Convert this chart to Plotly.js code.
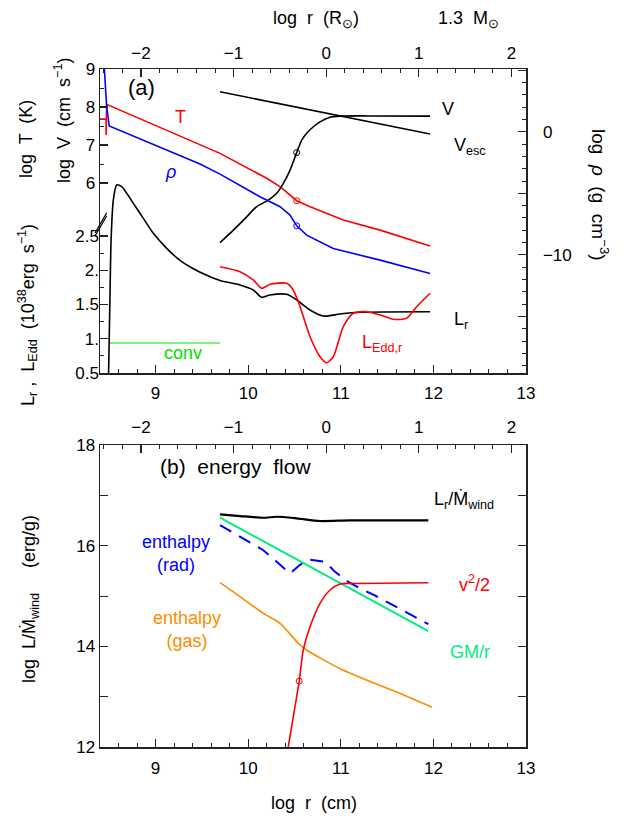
<!DOCTYPE html>
<html>
<head>
<meta charset="utf-8">
<script src="https://cdn.plot.ly/plotly-3.0.1.min.js"></script>
<style>html,body{margin:0;padding:0;background:#fff;}#chart{width:628px;height:822px;}</style>
</head>
<body>
<div id="chart"></div>
<script>
// ---------- data ----------
const LOG_RSUN = 10.842;            // log R_sun (cm), offset of the top axes

// panel (a): temperature
const logrT = [8.40, 8.466, 8.466, 8.472, 9.696, 10.20, 10.344, 10.524, 10.668, 11.028, 11.424, 11.964];
const logT  = [7.68, 7.68, 7.26, 8.07, 6.78, 6.124, 5.903, 5.534, 5.376, 5.026, 4.76, 4.34];

// panel (a): density (right axis)
const logrRho = [8.440, 8.446, 8.472, 8.50, 9.48, 9.696, 9.84, 10.128, 10.344, 10.452, 10.524, 10.632, 10.919, 11.424, 11.964];
const logRho  = [6.0, 5.02, 2.03, 0.47, -2.62, -3.44, -4.06, -5.28, -6.09, -6.77, -7.64, -8.40, -9.48, -10.43, -11.51];

// panel (a): wind velocity
const logrV = [9.696, 9.84, 9.984, 10.092, 10.218, 10.308, 10.38, 10.452, 10.524, 10.578, 10.632, 10.704, 10.776, 10.884, 10.992, 11.3, 11.964];
const logV  = [4.43, 4.76, 5.11, 5.38, 5.55, 5.73, 5.99, 6.34, 6.80, 7.13, 7.31, 7.48, 7.61, 7.73, 7.76, 7.765, 7.76];

// panel (a): escape velocity
const logrVesc = [9.696, 10.83, 11.964];
const logVesc  = [8.40, 7.845, 7.29];

// panel (a): L_r (1e38 erg/s)
const logrLr = [8.49, 8.505, 8.52, 8.544, 8.58, 8.634, 8.688, 8.76, 8.868, 8.976, 9.12, 9.264, 9.408, 9.553, 9.696, 9.912, 10.055, 10.146, 10.236, 10.416, 10.524, 10.668, 10.811, 10.99, 11.208, 11.964];
const Lr     = [0.30, 1.40, 2.45, 3.026, 3.245, 3.22, 3.123, 2.977, 2.758, 2.539, 2.32, 2.144, 2.023, 1.926, 1.85, 1.785, 1.712, 1.605, 1.639, 1.649, 1.566, 1.42, 1.332, 1.361, 1.386, 1.395];

// panel (a): L_Edd,r
const logrLedd = [9.696, 9.912, 10.055, 10.146, 10.236, 10.416, 10.486, 10.56, 10.668, 10.776, 10.848, 10.919, 11.027, 11.135, 11.28, 11.424, 11.567, 11.711, 11.819, 11.964];
const Ledd     = [2.052, 1.979, 1.858, 1.736, 1.795, 1.809, 1.712, 1.468, 1.03, 0.738, 0.65, 0.738, 1.176, 1.372, 1.395, 1.347, 1.284, 1.299, 1.468, 1.664];

// panel (a): convective region
const logrConv = [8.508, 9.696];
const convLevel = [0.938, 0.938];

// sonic-point markers
const sonicLogr = [10.524];
const sonicV = [6.80], sonicT = [5.534], sonicRho = [-7.64];

// panel (b): energy flow (erg/g)
const logrE = [9.696, 9.912, 10.164, 10.308, 10.524, 10.776, 11.1, 11.945];
const LrMdot = [16.623, 16.589, 16.555, 16.575, 16.543, 16.49, 16.504, 16.504];

const logrGM = [9.696, 11.945];
const GMr    = [16.556, 14.30];

const logrHrad = [9.696, 9.912, 10.164, 10.308, 10.452, 10.56, 10.668, 10.83, 10.938, 11.081, 11.208, 11.37, 11.513, 11.658, 11.802, 11.945];
const Hrad     = [16.41, 16.18, 15.91, 15.68, 15.45, 15.62, 15.72, 15.68, 15.48, 15.28, 15.15, 15.01, 14.87, 14.72, 14.58, 14.44];

const logrHgas = [9.696, 9.912, 10.164, 10.344, 10.542, 10.63, 11.023, 11.679, 11.985];
const Hgas     = [15.264, 14.986, 14.656, 14.457, 14.06, 13.927, 13.53, 13.033, 12.79];

const logrKin = [10.42, 10.433, 10.551, 10.595, 10.668, 10.776, 10.884, 10.992, 11.172, 11.945];
const kin     = [11.8, 12.0, 13.31, 13.93, 14.39, 14.855, 15.12, 15.24, 15.25, 15.264];
const sonicKinLogr = [10.551], sonicKin = [13.31];

// axis ticks
const xTicks = [9, 10, 11, 12, 13];
const xSunTicks = [-2, -1, 0, 1, 2];
const xSunText = ['−2', '−1', '0', '1', '2'];
const tTicks = [6, 7, 8, 9];
const lTicks = [0.5, 1, 1.5, 2, 2.5];
const lTickText = ['0.5', '1.', '1.5', '2.', '2.5'];
const rhoTicks = [-15, -10, -5, 0, 5];
const rhoTickText = ['', '−10', '', '0', ''];
const eTicks = [12, 14, 16, 18];

// ---------- styling ----------
const RED = '#ff0000', BLUE = '#0000ff', BLACK = '#000000';
const CONV = '#00dd00', GMC = '#00ee80', ORANGE = '#ff8c00';
const FONT = 'Liberation Sans, Arial, sans-serif';
const AX = '#222222';

function line(x, y, color, xa, ya, extra) {
  return Object.assign({x: x, y: y, xaxis: xa, yaxis: ya, mode: 'lines',
    line: {color: color, width: 1.6}, hoverinfo: 'skip'}, extra || {});
}
function smooth(x, y, color, xa, ya, w) {
  return line(x, y, color, xa, ya, {line: {color: color, width: w || 1.6, shape: 'spline', smoothing: 0.7}});
}
function ring(x, y, color, xa, ya) {
  return {x: x, y: y, xaxis: xa, yaxis: ya, mode: 'markers',
    marker: {symbol: 'circle-open', size: 6, color: color, line: {width: 1, color: color}}, hoverinfo: 'skip'};
}

const traces = [
  line(logrT, logT, RED, 'x', 'y'),
  smooth(logrV, logV, BLACK, 'x', 'y'),
  line(logrVesc, logVesc, BLACK, 'x', 'y'),
  line(logrRho, logRho, BLUE, 'x', 'y3'),
  smooth(logrLr, Lr, BLACK, 'x', 'y2'),
  smooth(logrLedd, Ledd, RED, 'x', 'y2'),
  line(logrConv, convLevel, CONV, 'x', 'y2', {line: {color: CONV, width: 1.2}}),
  ring(sonicLogr, sonicV, BLACK, 'x', 'y'),
  ring(sonicLogr, sonicT, RED, 'x', 'y'),
  ring(sonicLogr, sonicRho, BLUE, 'x', 'y3'),
  smooth(logrE, LrMdot, BLACK, 'x3', 'y4', 2.2),
  line(logrGM, GMr, GMC, 'x3', 'y4', {line: {color: GMC, width: 2}}),
  line(logrHrad, Hrad, BLUE, 'x3', 'y4', {line: {color: BLUE, width: 2, dash: '13px,9px'}}),
  smooth(logrHgas, Hgas, ORANGE, 'x3', 'y4'),
  smooth(logrKin, kin, RED, 'x3', 'y4'),
  ring(sonicKinLogr, sonicKin, RED, 'x3', 'y4'),
  // empty traces so the log r (R_sun) axes get drawn
  {x: [], y: [], xaxis: 'x2', yaxis: 'y', mode: 'lines', hoverinfo: 'skip'},
  {x: [], y: [], xaxis: 'x4', yaxis: 'y4', mode: 'lines', hoverinfo: 'skip'}
];

const tickCommon = {
  ticks: 'inside', ticklen: 8, tickwidth: 1.2, tickcolor: AX,
  showline: true, linecolor: AX, linewidth: 1.5,
  showgrid: false, zeroline: false, fixedrange: true,
  tickfont: {family: FONT, size: 17, color: '#000'}
};
function ax(o) { return Object.assign({}, tickCommon, o); }
const minorX = {dtick: 0.2, tick0: 0, ticklen: 4, ticks: 'inside', tickwidth: 1, tickcolor: AX};

const TOP = [0.5516, 1], BOT = [0, 0.4454];

const layout = {
  width: 628, height: 822,
  margin: {l: 100, r: 102, t: 69, b: 75},
  paper_bgcolor: '#fff', plot_bgcolor: 'rgba(0,0,0,0)',
  showlegend: false, hovermode: false,
  font: {family: FONT, size: 17, color: '#000'},
  xaxis: ax({domain: [0, 1], anchor: 'y', range: [8.4, 13], tickmode: 'array', tickvals: xTicks, minor: minorX, ticklabelstandoff: 4}),
  xaxis2: ax({overlaying: 'x', anchor: 'y', side: 'top', range: [8.4 - LOG_RSUN, 13 - LOG_RSUN],
    tickmode: 'array', tickvals: xSunTicks, ticktext: xSunText, minor: minorX, ticklabelstandoff: 2}),
  xaxis3: ax({domain: [0, 1], anchor: 'y4', range: [8.4, 13], tickmode: 'array', tickvals: xTicks, minor: minorX, ticklabelstandoff: 5}),
  xaxis4: ax({overlaying: 'x3', anchor: 'y4', side: 'top', range: [8.4 - LOG_RSUN, 13 - LOG_RSUN],
    tickmode: 'array', tickvals: xSunTicks, ticktext: xSunText, minor: minorX, ticklabelstandoff: 4}),
  yaxis: ax({domain: TOP, anchor: 'x', side: 'left', range: [1, 9], tickmode: 'array', tickvals: tTicks,
    minor: {tickmode: 'array', tickvals: [6.5, 7.5, 8.5], ticklen: 4, ticks: 'inside', tickwidth: 1, tickcolor: AX}}),
  yaxis2: ax({overlaying: 'y', anchor: 'x', side: 'left', range: [0.5, 4.938], tickmode: 'array',
    tickvals: lTicks, ticktext: lTickText, showline: false,
    minor: {tickmode: 'array', tickvals: [0.75, 1.25, 1.75, 2.25], ticklen: 4, ticks: 'inside', tickwidth: 1, tickcolor: AX}}),
  yaxis3: ax({overlaying: 'y', anchor: 'x', side: 'right', range: [-19.6, 5.1], tickmode: 'array',
    tickvals: rhoTicks, ticktext: rhoTickText, ticklabelstandoff: 12,
    minor: {dtick: 1, tick0: 0, ticklen: 4, ticks: 'inside', tickwidth: 1, tickcolor: AX}}),
  yaxis4: ax({domain: BOT, anchor: 'x3', side: 'left', range: [12, 18], tickmode: 'array', tickvals: eTicks,
    mirror: 'allticks',
    minor: {dtick: 1, tick0: 0, ticklen: 4, ticks: 'inside', tickwidth: 1, tickcolor: AX}}),
  shapes: [
    {type: 'line', xref: 'paper', yref: 'paper', x0: -0.0117, y0: 0.7581, x1: 0.0157, y1: 0.7880, line: {color: '#000', width: 1.2}},
    {type: 'line', xref: 'paper', yref: 'paper', x0: -0.0117, y0: 0.7537, x1: 0.0157, y1: 0.7836, line: {color: '#000', width: 1.2}}
  ],
  annotations: []
};

function note(text, px, py, opts) {
  layout.annotations.push(Object.assign({
    text: text, xref: 'paper', yref: 'paper',
    x: (px - 100) / 426, y: (747 - py) / 678,
    xanchor: 'center', yanchor: 'middle', showarrow: false,
    font: {family: FONT, size: 18, color: '#000'}
  }, opts || {}));
}
function f(color, size) { return {font: {family: FONT, size: size || 18, color: color}}; }
// top-axis titles
note('log  r  (R<sub>⊙</sub>)', 316, 20);
note('1.3  M<sub>⊙</sub>', 468, 20);
// left titles panel (a)
note('log  T  (K)', 26, 139, {textangle: -90});
note('log  V  (cm  s<sup>−1</sup>)', 63, 121, {textangle: -90});
note('L<sub>r</sub> ,  L<sub>Edd</sub>  (10<sup>38</sup>erg  s<sup>−1</sup>)', 27, 315, {textangle: -90});
// right title
note('log  <i>ρ</i>  (g  cm<sup>−3</sup>)', 600, 195, {textangle: 90, font: {family: FONT, size: 19, color: '#000'}});
// labels panel (a)
note('(a)', 141, 87, f('#000', 22));
note('T', 180, 117, f(RED));
note('<i>ρ</i>', 170, 172, f(BLUE));
note('V', 448, 109);
note('V<sub>esc</sub>', 470, 147);
note('L<sub>r</sub>', 461, 320);
note('L<sub>Edd,r</sub>', 382, 343, f(RED));
note('conv', 183, 353, f(CONV));
// panel (b)
note('(b)  energy  flow', 235, 467, f('#000', 21));
note('L<sub>r</sub>/Ṁ<sub>wind</sub>', 464, 500);
note('enthalpy<br>(rad)', 176, 553, f(BLUE));
note('v<sup>2</sup>/2', 474, 583, f(RED));
note('enthalpy<br>(gas)', 187, 629, f(ORANGE));
note('GM/r', 470, 652, f(GMC));
note('log  L/Ṁ<sub>wind</sub>     (erg/g)', 30, 599, {textangle: -90});
note('log  r  (cm)', 314, 803);

Plotly.newPlot('chart', traces, layout, {staticPlot: true, displayModeBar: false});
</script>
</body>
</html>
